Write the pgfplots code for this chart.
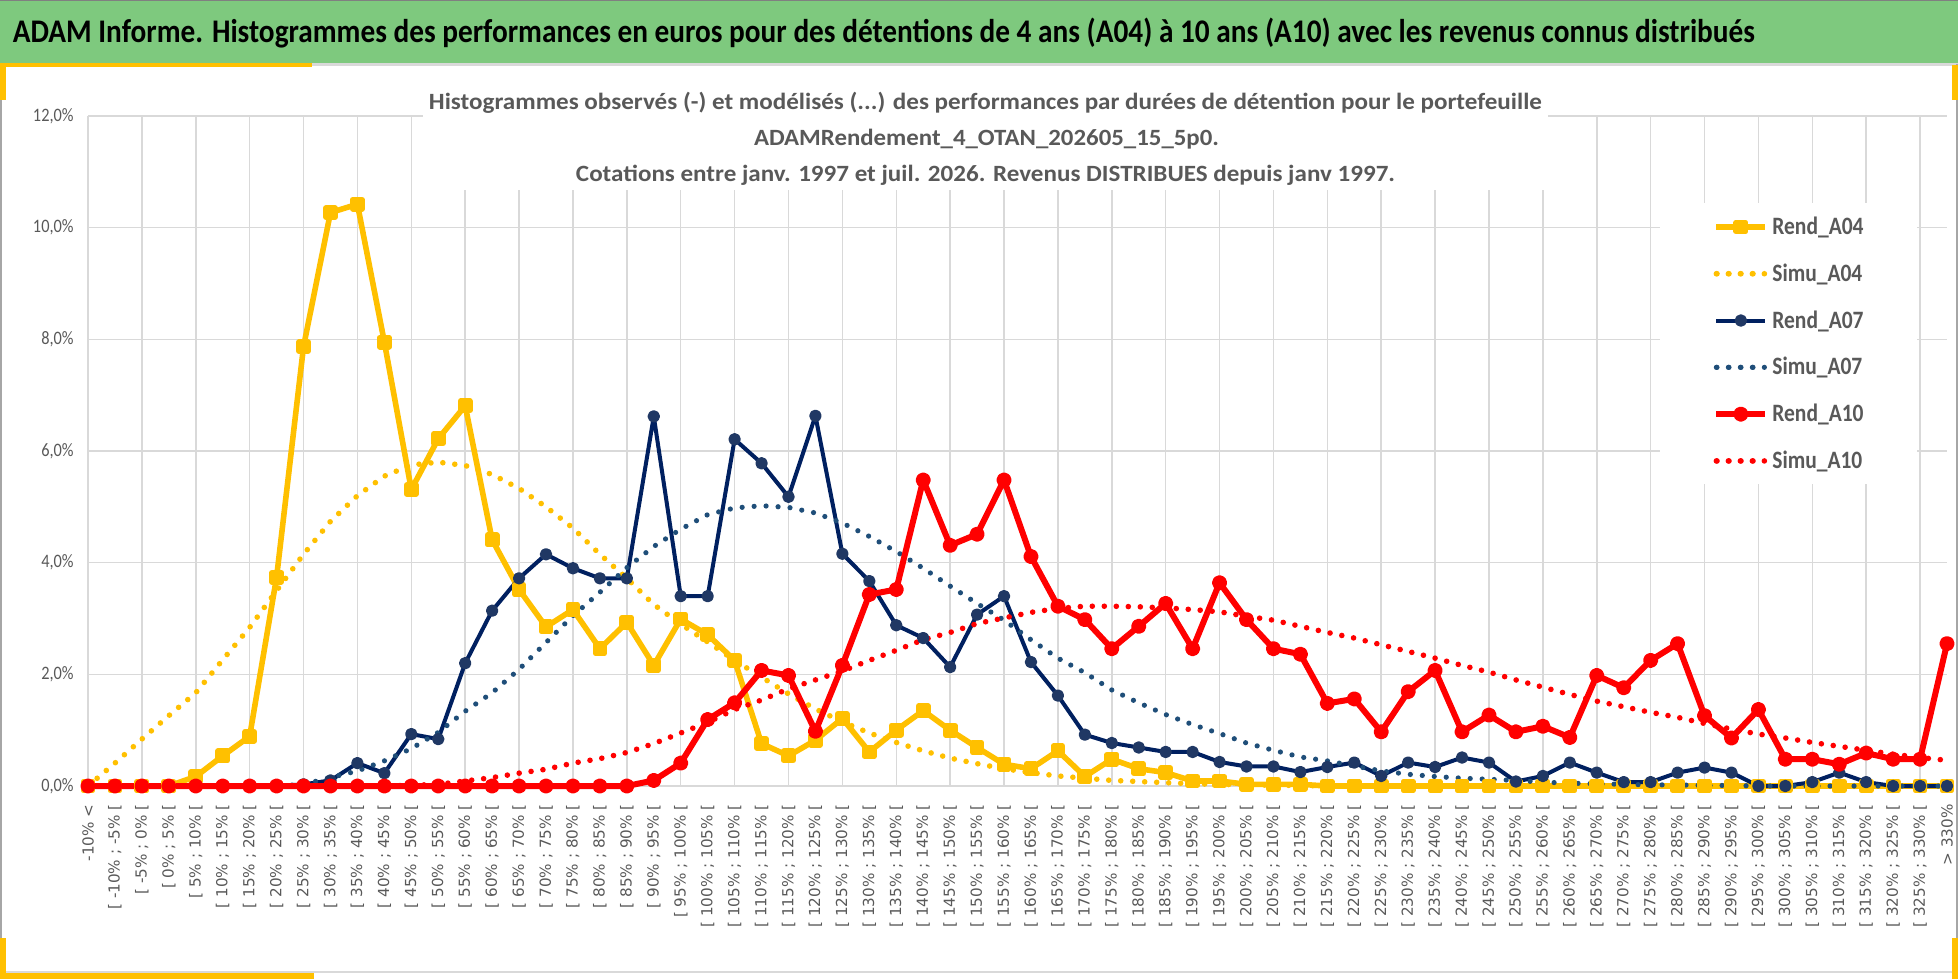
\documentclass[border=0pt]{standalone}
\usepackage{fontspec}
\setmainfont{Carlito}
\newfontfamily\dejavu{DejaVu Sans}
\usepackage{graphicx}
\usepackage{pgfplots}
\usepackage{pgfplotstable}
\pgfplotsset{compat=1.18}

\definecolor{gold}{HTML}{FFC000}
\definecolor{navy}{HTML}{002060}
\definecolor{navym}{HTML}{203864}
\definecolor{navydot}{HTML}{1F4E79}
\definecolor{myred}{HTML}{FF0000}
\definecolor{tgray}{HTML}{595959}
\definecolor{ggray}{HTML}{D9D9D9}
\definecolor{bgreen}{HTML}{7EC97E}
\definecolor{bgray}{HTML}{A6A6A6}

\newcommand\ls{\rule[-3pt]{0pt}{12pt}}

\pgfplotstableread{
i r4 s4 r7 s7 r10 s10
0 0 0 0 0 0 0
1 0 0.41 0 0 0 0
2 0 0.84 0 0 0 0
3 0 1.26 0 0 0 0
4 0.17 1.67 0 0 0 0
5 0.54 2.26 0 0 0 0
6 0.89 2.84 0 0 0 0
7 3.74 3.50 0 0 0 0
8 7.87 4.15 0.03 0.03 0 0
9 10.27 4.74 0.10 0.15 0 0
10 10.42 5.20 0.41 0.27 0 0
11 7.95 5.55 0.23 0.45 0 0.005
12 5.31 5.75 0.93 0.67 0 0.01
13 6.22 5.80 0.84 0.96 0 0.03
14 6.81 5.74 2.20 1.34 0 0.09
15 4.41 5.58 3.14 1.67 0 0.15
16 3.52 5.33 3.72 2.09 0 0.23
17 2.85 5.00 4.15 2.57 0 0.30
18 3.16 4.62 3.90 3.05 0 0.41
19 2.46 4.15 3.72 3.47 0 0.49
20 2.93 3.72 3.72 3.91 0 0.60
21 2.16 3.25 6.62 4.29 0.10 0.76
22 2.99 2.90 3.40 4.60 0.41 0.95
23 2.71 2.58 3.40 4.86 1.19 1.14
24 2.25 2.25 6.21 4.98 1.49 1.37
25 0.76 1.95 5.78 5.02 2.07 1.54
26 0.54 1.65 5.18 4.99 1.98 1.74
27 0.82 1.38 6.63 4.89 0.98 1.90
28 1.21 1.15 4.16 4.71 2.16 2.06
29 0.61 0.95 3.67 4.47 3.43 2.25
30 1.00 0.78 2.88 4.20 3.52 2.43
31 1.35 0.63 2.65 3.90 5.48 2.62
32 1.00 0.50 2.13 3.58 4.31 2.75
33 0.69 0.40 3.07 3.27 4.51 2.91
34 0.39 0.31 3.40 2.97 5.48 3.01
35 0.31 0.24 2.22 2.62 4.11 3.11
36 0.63 0.18 1.62 2.29 3.22 3.18
37 0.17 0.14 0.92 2.03 2.98 3.22
38 0.48 0.10 0.77 1.72 2.46 3.22
39 0.31 0.08 0.69 1.49 2.86 3.21
40 0.24 0.06 0.61 1.28 3.27 3.19
41 0.09 0.04 0.61 1.10 2.46 3.16
42 0.09 0.03 0.43 0.94 3.64 3.12
43 0.03 0.02 0.35 0.77 2.98 3.04
44 0.03 0.015 0.35 0.64 2.46 2.97
45 0.03 0.01 0.25 0.52 2.36 2.86
46 0 0 0.34 0.45 1.48 2.75
47 0 0 0.42 0.36 1.56 2.65
48 0 0 0.18 0.27 0.97 2.53
49 0 0 0.42 0.21 1.69 2.41
50 0 0 0.34 0.17 2.07 2.29
51 0 0 0.51 0.14 0.97 2.16
52 0 0 0.42 0.12 1.27 2.04
53 0 0 0.08 0.10 0.97 1.90
54 0 0 0.18 0.07 1.07 1.77
55 0 0 0.42 0.05 0.87 1.64
56 0 0 0.24 0.04 1.98 1.52
57 0 0 0.07 0.03 1.76 1.42
58 0 0 0.07 0.02 2.25 1.32
59 0 0 0.24 0.02 2.55 1.23
60 0 0 0.33 0.01 1.26 1.12
61 0 0 0.24 0.01 0.86 1.02
62 0 0 0 0 1.37 0.93
63 0 0 0 0 0.48 0.86
64 0 0 0.07 0 0.48 0.78
65 0 0 0.24 0 0.39 0.71
66 0 0 0.07 0 0.59 0.64
67 0 0 0 0 0.48 0.57
68 0 0 0 0 0.48 0.51
69 0 0 0 0 2.55 0.46
}\data

\begin{document}
\begin{tikzpicture}
\useasboundingbox (0,0) rectangle (979pt,-489.5pt);
\fill[white] (0,0) rectangle (979pt,-489.5pt);
% green title bar
\fill[bgreen] (0,0) rectangle (979pt,-31.5pt);
\draw[gray, line width=0.5pt] (0,-0.25pt) -- (979pt,-0.25pt);
\node[anchor=base west, inner sep=0pt, font=\fontsize{16.5pt}{19pt}\selectfont\bfseries] at (6.25pt,-21.5pt)
  {\resizebox{871pt}{\height}{ADAM Informe. Histogrammes des performances en euros pour des détentions de 4 ans (A04) à 10 ans (A10) avec les revenus connus distribués}};
% chart frame
\fill[ggray] (0,-31.5pt) rectangle (979pt,-33pt);
\draw[bgray, line width=1pt] (0.5pt,-32pt) -- (0.5pt,-486.5pt);
\draw[bgray, line width=1pt] (978.5pt,-32pt) -- (978.5pt,-486.5pt);
\draw[ggray, line width=1pt] (0.5pt,-486pt) -- (978.5pt,-486pt);
% yellow corner marks
\fill[gold] (0,-31.5pt) rectangle (156pt,-33.5pt);
\fill[gold] (0,-31.5pt) rectangle (3pt,-50pt);
\fill[gold] (976pt,-32.5pt) rectangle (979pt,-50pt);
\fill[gold] (0,-469pt) rectangle (3pt,-489.5pt);
\fill[gold] (0,-486.5pt) rectangle (157pt,-489.5pt);
\fill[gold] (976pt,-469pt) rectangle (979pt,-489.5pt);

\begin{axis}[
  at={(44pt,-393pt)}, anchor=south west,
  width=929.5pt, height=335pt, scale only axis,
  xmin=0, xmax=69, ymin=0, ymax=12,
  clip=false,
  axis line style={draw=none},
  major tick length=0pt, minor tick length=0pt,
  xtick={0,...,69},
  xticklabel={\pgfmathtruncatemacro\ca{5*\tick-15}\pgfmathtruncatemacro\cb{\ca+5}\ifnum\ca<-10 -10\% <\else\ifnum\ca>325 > 330\%\else[ \ca\% ; \cb\% [\fi\fi},
  xticklabel style={font=\dejavu\fontsize{7.6pt}{9pt}\selectfont, text=tgray, rotate=90, anchor=east, inner sep=0pt},
  xticklabel shift=9pt,
  ytick={0,2,...,12},
  /pgf/number format/assume math mode=true,
  yticklabel={\scalebox{0.86}[1]{\pgfmathprintnumber[fixed,fixed zerofill,precision=1,use comma]{\tick}\%}},
  yticklabel style={font=\fontsize{9.5pt}{11pt}\selectfont, text=tgray, anchor=east, inner sep=0pt},
  yticklabel shift=7pt,
  ymajorgrids,
  major grid style={ggray, line width=0.75pt},
  extra x ticks={0,2,...,68},
  extra x tick style={xmajorgrids=true, xticklabel={}},
  legend style={at={(0.8456,0.8701)}, anchor=north west, fill=white, draw=none,
    inner xsep=26.5pt, inner ysep=6.5pt, row sep=12.9pt, column sep=2pt,
    font=\fontsize{12.5pt}{14pt}\selectfont\bfseries, text=tgray, nodes={inner sep=0pt}},
  legend cell align=left,
  solidleg/.style={legend image code/.code={\draw[mark repeat=2,mark phase=2,##1] plot coordinates {(0pt,0pt) (12.25pt,0pt) (24.5pt,0pt)};}},
  dotleg/.style={legend image code/.code={\path (0pt,0pt) -- (24.5pt,0pt); \draw[##1] (0.3pt,0pt) -- (18.6pt,0pt);}},
]
\addplot[gold, line width=2.8pt, line join=round, mark=square*, mark size=2.3pt, mark options={solid, fill=gold}, solidleg] table[x=i, y=r4] {\data};
\addlegendentry{\ls\scalebox{0.86}[1]{Rend\_A04}}
\addplot[gold, line width=2.8pt, line cap=round, dash pattern=on 0pt off 6pt, dotleg] table[x=i, y=s4] {\data};
\addlegendentry{\ls\scalebox{0.86}[1]{Simu\_A04}}
\addplot[navy, line width=2pt, line join=round, mark=*, mark size=2.1pt, mark options={solid, fill=navym, draw=navym}, solidleg] table[x=i, y=r7] {\data};
\addlegendentry{\ls\scalebox{0.86}[1]{Rend\_A07}}
\addplot[navydot, line width=2.6pt, line cap=round, dash pattern=on 0pt off 6pt, dotleg] table[x=i, y=s7] {\data};
\addlegendentry{\ls\scalebox{0.86}[1]{Simu\_A07}}
\addplot[myred, line width=3pt, line join=round, mark=*, mark size=2.3pt, mark options={solid, fill=myred}, solidleg] table[x=i, y=r10] {\data};
\addlegendentry{\ls\scalebox{0.86}[1]{Rend\_A10}}
\addplot[myred, line width=2.8pt, line cap=round, dash pattern=on 0pt off 6pt, dotleg] table[x=i, y=s10] {\data};
\addlegendentry{\ls\scalebox{0.86}[1]{Simu\_A10}}
\end{axis}

% chart title box
\fill[white] (211.5pt,-39pt) rectangle (774pt,-95pt);
\begin{scope}[every node/.style={anchor=base, inner sep=0pt, text=tgray, font=\fontsize{11.65pt}{14pt}\selectfont\bfseries}]
\node at (492.75pt,-55pt) {\resizebox{556.5pt}{\height}{Histogrammes observés (-) et modélisés (...) des performances par durées de détention pour le portefeuille}};
\node at (493.25pt,-72.75pt) {\resizebox{232.5pt}{\height}{ADAMRendement\_4\_OTAN\_202605\_15\_5p0.}};
\node at (492.75pt,-90.5pt) {\resizebox{409.5pt}{\height}{Cotations entre janv. 1997 et juil. 2026. Revenus DISTRIBUES depuis janv 1997.}};
\end{scope}
\end{tikzpicture}
\end{document}
